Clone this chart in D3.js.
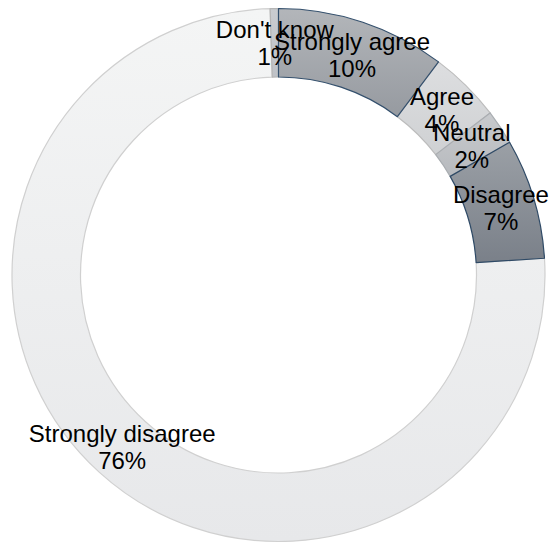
<!DOCTYPE html>
<html>
<head>
<meta charset="utf-8">
<script src="https://cdn.jsdelivr.net/npm/d3@7"></script>
<style>
  html, body { margin: 0; padding: 0; background: #fff; }
  svg text { font-family: "Liberation Sans", Arial, sans-serif; }
</style>
</head>
<body>
<div id="chart"></div>
<script>
// ----- Data (clockwise from 12 o'clock)
const categories = ["Strongly agree", "Agree", "Neutral", "Disagree", "Strongly disagree", "Don't know"];
const shares = [10.25, 4.35, 2.1, 7.3, 75.5, 0.5];

// top / bottom colours of each slice's vertical gradient
const topColors = ["#b3b6ba", "#dddee0", "#c8cacd", "#9ba0a6", "#f4f5f5", "#c9ccd0"];
const bottomColors = ["#969aa0", "#cfd1d3", "#b7babe", "#7a8089", "#e7e8ea", "#bfc2c7"];
const strokeColors = ["#34506d", "#bcbcbc", "#a9adb1", "#2f4a66", "#d0d0d0", "#b5b5b5"];

const width = 549, height = 543;
const cx = 278.5, cy = 275;
const outerR = 266.5, innerR = 198;

const data = categories.map((c, i) => ({ name: c, value: shares[i], idx: i }));

const svg = d3.select("#chart")
  .append("svg")
  .attr("width", width)
  .attr("height", height);

const defs = svg.append("defs");
data.forEach(d => {
  const grad = defs.append("linearGradient")
    .attr("id", "grad" + d.idx)
    .attr("x1", 0).attr("y1", 0)
    .attr("x2", 0).attr("y2", 1);
  grad.append("stop").attr("offset", "0%").attr("stop-color", topColors[d.idx]);
  grad.append("stop").attr("offset", "100%").attr("stop-color", bottomColors[d.idx]);
});

const pie = d3.pie()
  .sort(null)
  .value(d => d.value)
  .startAngle(0)
  .endAngle(2 * Math.PI);

const arc = d3.arc()
  .innerRadius(innerR)
  .outerRadius(outerR);

const g = svg.append("g")
  .attr("transform", `translate(${cx},${cy})`);

const arcs = pie(data);

// draw light slices first so dark outlines stay on top
const drawOrder = [4, 5, 1, 2, 0, 3];
g.selectAll("path.slice")
  .data(drawOrder.map(i => arcs[i]))
  .join("path")
    .attr("class", "slice")
    .attr("d", arc)
    .attr("fill", d => `url(#grad${d.data.idx})`)
    .attr("stroke", d => strokeColors[d.data.idx])
    .attr("stroke-width", 1.2)
    .attr("stroke-linejoin", "round");

// labels at ring centroid, name + rounded percent
const labels = g.selectAll("text.lbl")
  .data(arcs)
  .join("text")
    .attr("class", "lbl")
    .attr("transform", d => `translate(${arc.centroid(d)})`)
    .attr("text-anchor", "middle")
    .attr("font-size", 24)
    .attr("fill", "#000");

labels.append("tspan")
  .attr("x", 0)
  .attr("dy", -5)
  .text(d => d.data.name);

labels.append("tspan")
  .attr("x", 0)
  .attr("dy", 27)
  .text(d => Math.round(d.data.value) + "%");
</script>
</body>
</html>
